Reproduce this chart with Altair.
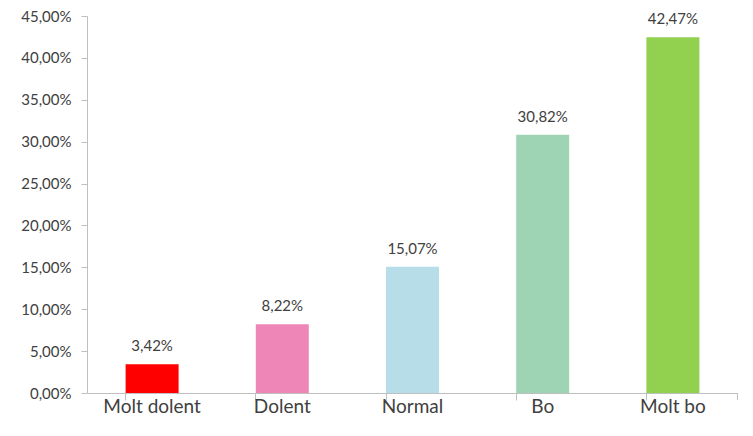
import altair as alt
import pandas as pd

categories = ["Molt dolent", "Dolent", "Normal", "Bo", "Molt bo"]
values = [3.42, 8.22, 15.07, 30.82, 42.47]
colors = ["#FF0000", "#EE86B8", "#B7DDE8", "#9ED3B3", "#92D050"]
y_ticks = [0, 5, 10, 15, 20, 25, 30, 35, 40, 45]

df = pd.DataFrame({"cat": categories, "val": values, "color": colors})

W, H = 651, 377
FONT = "Lato"
TXT = "#404040"
AX = "#BFBFBF"

x = alt.X("cat:N", sort=categories, title=None,
          scale=alt.Scale(paddingInner=0.593, paddingOuter=0.2965),
          axis=alt.Axis(labelAngle=0, labelFont=FONT, labelFontSize=19, labelColor=TXT,
                        labelBaseline="alphabetic", labelPadding=12,
                        domainColor=AX, tickColor=AX, tickSize=7,
                        bandPosition=0, ticks=True))
y = alt.Y("val:Q", title=None,
          scale=alt.Scale(domain=[0, 45], nice=False),
          axis=alt.Axis(values=y_ticks, grid=False, labelFont=FONT, labelFontSize=15,
                        labelColor=TXT, labelPadding=10, domainColor=AX, tickColor=AX,
                        tickSize=6,
                        labelExpr="replace(format(datum.value, '.2f'), '.', ',') + '%'"))

bars = alt.Chart(df).mark_bar().encode(
    x=x, y=y, color=alt.Color("color:N", scale=None)
)

labels = alt.Chart(df).mark_text(
    font=FONT, fontSize=15, color=TXT, baseline="bottom", dy=-10
).transform_calculate(
    lab="replace(format(datum.val, '.2f'), '.', ',') + '%'"
).encode(x=alt.X("cat:N", sort=categories), y="val:Q", text="lab:N")

end_tick = alt.Chart(df.head(1)).mark_rule(color=AX).encode(
    x=alt.value(W - 0.5), y=alt.value(H), y2=alt.value(H + 7)
)

chart = alt.layer(bars, labels, end_tick).properties(
    width=W, height=H,
    autosize=alt.AutoSizeParams(type="none"),
    padding={"left": 79, "top": 8, "right": 0, "bottom": 23},
).configure_view(stroke=None)

chart.save("out.html", embed_options={"renderer": "svg", "actions": False})
